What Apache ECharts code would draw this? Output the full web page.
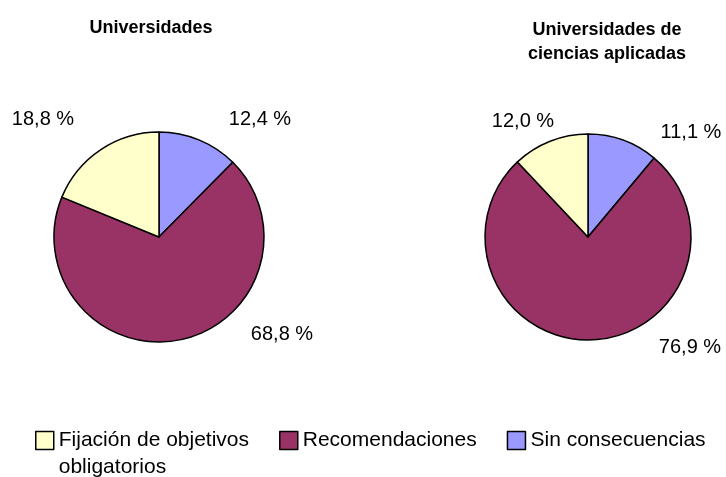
<!DOCTYPE html>
<html>
<head>
<meta charset="utf-8">
<script src="https://cdn.jsdelivr.net/npm/echarts@6/dist/echarts.min.js"></script>
<style>
  html, body { margin: 0; padding: 0; background: #fff; }
  #chart { width: 726px; height: 477px; }
</style>
</head>
<body>
<div id="chart"></div>
<script>
// categories in clockwise order from 12 o'clock
var categories = ['Sin consecuencias', 'Recomendaciones', 'Fijación de objetivos\nobligatorios'];
var legendOrder = ['Fijación de objetivos\nobligatorios', 'Recomendaciones', 'Sin consecuencias'];
var universidades = [12.4, 68.8, 18.8];
var cienciasAplicadas = [11.1, 76.9, 12.0];
var titles = ['Universidades', 'Universidades de\nciencias aplicadas'];

var colors = ['#9999FF', '#993366', '#FFFFCC'];

// label offsets from each pie centre, as Excel placed them
var labelOffsets = [
  [[101, -118], [123, 97], [-116, -118]],
  [[103, -105], [102, 110], [-65, -116]]
];
var centers = [[159, 237], [588, 237]];

var chart = echarts.init(document.getElementById('chart'));

function pctLabel(p) {
  return p.value.toFixed(1).replace('.', ',') + ' %';
}

function makePie(values, i, radius) {
  return {
    type: 'pie',
    center: centers[i],
    radius: radius,
    startAngle: 90,
    clockwise: true,
    silent: true,
    animation: false,
    itemStyle: {borderColor: '#000', borderWidth: 1.5},
    label: {
      show: true,
      position: 'inside',
      overflow: 'none',
      formatter: pctLabel,
      color: '#000',
      fontFamily: 'Liberation Sans, Arial, sans-serif',
      fontSize: 20
    },
    labelLine: {show: false},
    labelLayout: function(p) {
      var off = labelOffsets[i][p.dataIndex];
      return {
        x: centers[i][0] + off[0],
        y: centers[i][1] + off[1],
        align: 'center',
        verticalAlign: 'middle'
      };
    },
    data: values.map(function(v, k) {
      return {name: categories[k], value: v, itemStyle: {color: colors[k]}};
    })
  };
}

var titleFont = {
  fontFamily: 'Liberation Sans, Arial, sans-serif',
  fontWeight: 'bold',
  fontSize: 18,
  lineHeight: 24,
  color: '#000'
};

chart.setOption({
  backgroundColor: '#fff',
  animation: false,
  title: [
    {text: titles[0], left: 151, top: 16, textAlign: 'center', padding: 0, textStyle: titleFont},
    {text: titles[1], left: 607, top: 18, textAlign: 'center', padding: 0, textStyle: titleFont}
  ],
  legend: {
    left: 35,
    top: 400,
    padding: 0,
    itemWidth: 18,
    itemHeight: 18,
    itemGap: 30,
    icon: 'rect',
    selectedMode: false,
    itemStyle: {borderColor: '#000', borderWidth: 1.5},
    textStyle: {
      fontFamily: 'Liberation Sans, Arial, sans-serif',
      fontSize: 21,
      lineHeight: 27,
      color: '#000'
    },
    // a blank first line keeps the wrapped name's first line level with its box
    formatter: function(name) {
      return name.indexOf('\n') >= 0 ? '\n' + name : name;
    },
    data: legendOrder
  },
  series: [
    makePie(universidades, 0, 105),
    makePie(cienciasAplicadas, 1, 103)
  ]
});
</script>
</body>
</html>
